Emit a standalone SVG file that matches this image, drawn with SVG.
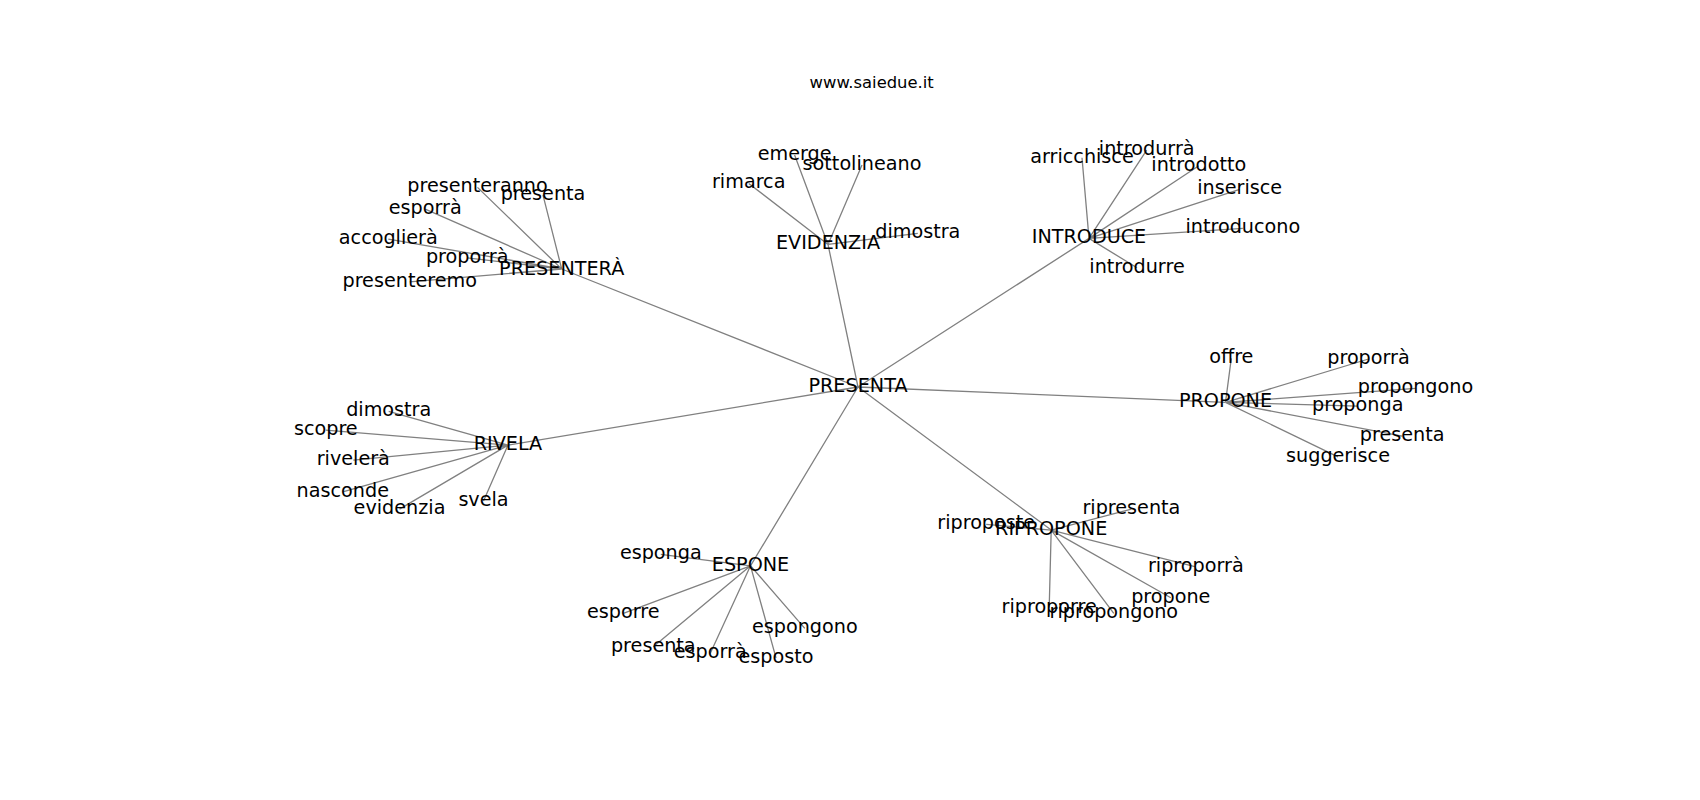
<svg xmlns="http://www.w3.org/2000/svg" width="1700" height="800" viewBox="0 0 1700 800">
<style>
.e{stroke:#808080;stroke-width:1.3;fill:none}
text{font-family:"DejaVu Sans","Liberation Sans",sans-serif;font-size:19.2px;fill:#000;text-anchor:middle}
.t{font-size:16.4px}
</style>
<rect width="1700" height="800" fill="#fff"/>
<text class="t" x="871.7" y="88.3">www.saiedue.it</text>
<g id="edges">
<path class="e" d="M858,387L561.7,269M858,387L828,244.4M858,387L1089,238.4M858,387L1225.5,402.4M858,387L508,445.1M858,387L750.5,565.8M858,387L1051.2,530.1"/>
<path class="e" d="M561.7,269L477.5,187.4M561.7,269L543,195.1M561.7,269L425.2,209.1M561.7,269L388.3,239.1M561.7,269L467.2,257.8M561.7,269L409.7,281.8"/>
<path class="e" d="M828,244.4L794.6,155.1M828,244.4L862,165.1M828,244.4L748.7,183.4M828,244.4L917.8,233.4"/>
<path class="e" d="M1089,238.4L1082,157.8M1089,238.4L1146.7,150.1M1089,238.4L1198.8,165.8M1089,238.4L1239.7,189.4M1089,238.4L1242.8,228.4M1089,238.4L1137,267.8"/>
<path class="e" d="M1225.5,402.4L1231.3,358.4M1225.5,402.4L1368.5,359M1225.5,402.4L1415.5,388.4M1225.5,402.4L1357.7,406.1M1225.5,402.4L1402.2,436.1M1225.5,402.4L1338,456.8"/>
<path class="e" d="M508,445.1L388.7,411.4M508,445.1L325.8,430.1M508,445.1L353.3,460.1M508,445.1L342.8,491.8M508,445.1L399.5,509.1M508,445.1L483.5,501.1"/>
<path class="e" d="M750.5,565.8L660.8,554.4M750.5,565.8L623.3,613.4M750.5,565.8L653.3,646.8M750.5,565.8L710.2,653.4M750.5,565.8L776,657.8M750.5,565.8L804.8,628.4"/>
<path class="e" d="M1051.2,530.1L986.2,524.4M1051.2,530.1L1131.4,509.1M1051.2,530.1L1195.8,566.8M1051.2,530.1L1170.8,597.8M1051.2,530.1L1049.2,607.8M1051.2,530.1L1113.8,613.4"/>
</g>
<g id="n-presenta"><text x="858" y="391.7">PRESENTA</text></g>
<g id="n-presentera"><text x="561.7" y="275">PRESENTERÀ</text></g>
<g id="n-evidenzia"><text x="828" y="249.3">EVIDENZIA</text></g>
<g id="n-introduce"><text x="1089" y="243.3">INTRODUCE</text></g>
<g id="n-propone"><text x="1225.5" y="407.3">PROPONE</text></g>
<g id="n-rivela"><text x="508" y="450">RIVELA</text></g>
<g id="n-espone"><text x="750.5" y="570.7">ESPONE</text></g>
<g id="n-ripropone"><text x="1051.2" y="535">RIPROPONE</text></g>
<g id="n-presenteranno"><text x="477.5" y="192.3">presenteranno</text></g>
<g id="n-presenta-1"><text x="543" y="200">presenta</text></g>
<g id="n-esporra-1"><text x="425.2" y="214">esporrà</text></g>
<g id="n-accogliera"><text x="388.3" y="244">accoglierà</text></g>
<g id="n-proporra-1"><text x="467.2" y="262.7">proporrà</text></g>
<g id="n-presenteremo"><text x="409.7" y="286.7">presenteremo</text></g>
<g id="n-emerge"><text x="794.6" y="160">emerge</text></g>
<g id="n-sottolineano"><text x="862" y="170">sottolineano</text></g>
<g id="n-rimarca"><text x="748.7" y="188.3">rimarca</text></g>
<g id="n-dimostra-1"><text x="917.8" y="238.3">dimostra</text></g>
<g id="n-arricchisce"><text x="1082" y="162.7">arricchisce</text></g>
<g id="n-introdurra"><text x="1146.7" y="155">introdurrà</text></g>
<g id="n-introdotto"><text x="1198.8" y="170.7">introdotto</text></g>
<g id="n-inserisce"><text x="1239.7" y="194.3">inserisce</text></g>
<g id="n-introducono"><text x="1242.8" y="233.3">introducono</text></g>
<g id="n-introdurre"><text x="1137" y="272.7">introdurre</text></g>
<g id="n-offre"><text x="1231.3" y="363.3">offre</text></g>
<g id="n-proporra-2"><text x="1368.5" y="363.9">proporrà</text></g>
<g id="n-propongono"><text x="1415.5" y="393.3">propongono</text></g>
<g id="n-proponga"><text x="1357.7" y="411">proponga</text></g>
<g id="n-presenta-2"><text x="1402.2" y="441">presenta</text></g>
<g id="n-suggerisce"><text x="1338" y="461.7">suggerisce</text></g>
<g id="n-dimostra-2"><text x="388.7" y="416.3">dimostra</text></g>
<g id="n-scopre"><text x="325.8" y="435">scopre</text></g>
<g id="n-rivelera"><text x="353.3" y="465">rivelerà</text></g>
<g id="n-nasconde"><text x="342.8" y="496.7">nasconde</text></g>
<g id="n-evidenzia-l"><text x="399.5" y="514">evidenzia</text></g>
<g id="n-svela"><text x="483.5" y="506">svela</text></g>
<g id="n-esponga"><text x="660.8" y="559.3">esponga</text></g>
<g id="n-esporre"><text x="623.3" y="618.3">esporre</text></g>
<g id="n-presenta-3"><text x="653.3" y="651.7">presenta</text></g>
<g id="n-esporra-3"><text x="710.2" y="658.3">esporrà</text></g>
<g id="n-esposto"><text x="776" y="662.7">esposto</text></g>
<g id="n-espongono"><text x="804.8" y="633.3">espongono</text></g>
<g id="n-riproposte"><text x="986.2" y="529.3">riproposte</text></g>
<g id="n-ripresenta"><text x="1131.4" y="514">ripresenta</text></g>
<g id="n-riproporra"><text x="1195.8" y="571.7">riproporrà</text></g>
<g id="n-propone-l"><text x="1170.8" y="602.7">propone</text></g>
<g id="n-riproporre"><text x="1049.2" y="612.7">riproporre</text></g>
<g id="n-ripropongono"><text x="1113.8" y="618.3">ripropongono</text></g>
</svg>
